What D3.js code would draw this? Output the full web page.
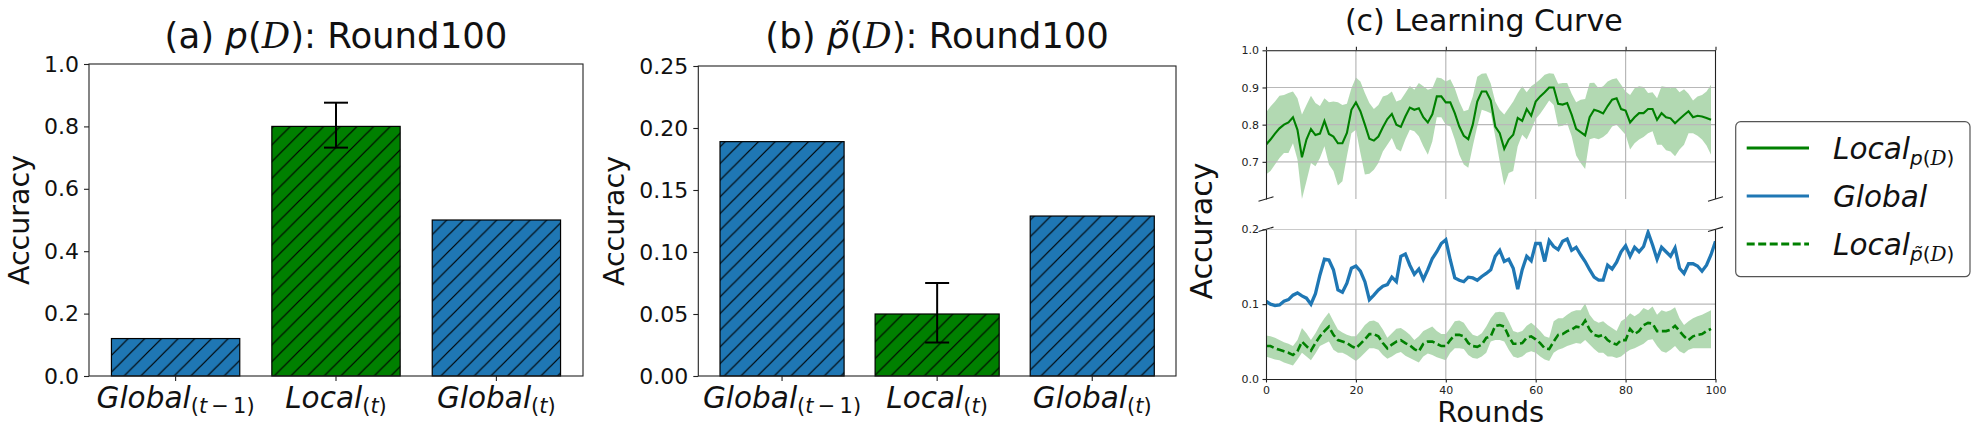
<!DOCTYPE html>
<html>
<head>
<meta charset="utf-8">
<script src="https://cdn.jsdelivr.net/npm/d3@7"></script>
<style>
  body { margin: 0; background: #fff; }
  svg { display: block; font-family: "DejaVu Sans", sans-serif; }
</style>
</head>
<body>
<svg id="chart" width="1977" height="436"></svg>
<script>
// bar panels
const barNames = ['Global', 'Local', 'Global']
const barSubs = ['(t\u2009\u2212\u20091)', '(t)', '(t)']
const barColors = ['#1f77b4', '#008000', '#1f77b4']
const pValues = [0.12, 0.80, 0.50]
const pLocalErr = [0.732, 0.876]
const ptValues = [0.189, 0.050, 0.129]
const ptLocalErr = [0.027, 0.075]
const pTicks = [0, 0.2, 0.4, 0.6, 0.8, 1.0]
const ptTicks = [0, 0.05, 0.10, 0.15, 0.20, 0.25]

// learning curve (rounds 0..99, Global has 0..100)
const localPMean = [0.746, 0.76, 0.776, 0.79, 0.80, 0.806, 0.82, 0.786, 0.712, 0.76,
  0.788, 0.772, 0.776, 0.81, 0.775, 0.768, 0.75, 0.75, 0.778, 0.84,
  0.86, 0.836, 0.80, 0.762, 0.757, 0.768, 0.793, 0.815, 0.829, 0.80,
  0.794, 0.822, 0.846, 0.84, 0.844, 0.82, 0.806, 0.828, 0.876, 0.876,
  0.86, 0.86, 0.831, 0.795, 0.77, 0.761, 0.80, 0.862, 0.889, 0.889,
  0.865, 0.795, 0.777, 0.735, 0.76, 0.773, 0.818, 0.81, 0.842, 0.824,
  0.862, 0.876, 0.887, 0.90, 0.90, 0.856, 0.854, 0.858, 0.827, 0.789,
  0.78, 0.771, 0.82, 0.84, 0.836, 0.83, 0.85, 0.867, 0.871, 0.842,
  0.838, 0.806, 0.82, 0.831, 0.831, 0.842, 0.842, 0.813, 0.831, 0.82,
  0.817, 0.804, 0.815, 0.826, 0.836, 0.82, 0.824, 0.822, 0.818, 0.813]
const localPUpper = [0.833, 0.849, 0.862, 0.878, 0.88, 0.885, 0.889, 0.871, 0.827, 0.853,
  0.878, 0.858, 0.85, 0.871, 0.86, 0.862, 0.86, 0.853, 0.856, 0.898,
  0.927, 0.916, 0.885, 0.858, 0.842, 0.853, 0.876, 0.88, 0.889, 0.862,
  0.867, 0.885, 0.904, 0.894, 0.912, 0.903, 0.894, 0.898, 0.927, 0.925,
  0.916, 0.922, 0.898, 0.862, 0.836, 0.84, 0.876, 0.929, 0.937, 0.938,
  0.911, 0.862, 0.84, 0.827, 0.845, 0.862, 0.885, 0.903, 0.887, 0.903,
  0.912, 0.922, 0.934, 0.938, 0.937, 0.91, 0.912, 0.912, 0.883, 0.86,
  0.867, 0.869, 0.912, 0.913, 0.898, 0.903, 0.916, 0.922, 0.925, 0.907,
  0.889, 0.88, 0.898, 0.903, 0.901, 0.885, 0.887, 0.871, 0.903, 0.901,
  0.898, 0.901, 0.887, 0.895, 0.883, 0.865, 0.876, 0.88, 0.889, 0.907]
const localPLower = [0.666, 0.675, 0.693, 0.71, 0.724, 0.724, 0.75, 0.706, 0.60, 0.648,
  0.697, 0.688, 0.71, 0.742, 0.693, 0.675, 0.636, 0.648, 0.715, 0.777,
  0.786, 0.724, 0.666, 0.668, 0.679, 0.697, 0.728, 0.746, 0.764, 0.735,
  0.728, 0.76, 0.786, 0.782, 0.769, 0.742, 0.719, 0.755, 0.82, 0.82,
  0.80, 0.795, 0.76, 0.719, 0.693, 0.684, 0.742, 0.795, 0.84, 0.836,
  0.831, 0.769, 0.70, 0.636, 0.67, 0.675, 0.742, 0.773, 0.76, 0.786,
  0.815, 0.829, 0.847, 0.865, 0.853, 0.795, 0.797, 0.804, 0.769, 0.717,
  0.697, 0.681, 0.761, 0.764, 0.761, 0.767, 0.777, 0.795, 0.80, 0.786,
  0.773, 0.733, 0.75, 0.76, 0.767, 0.777, 0.782, 0.746, 0.746, 0.731,
  0.728, 0.715, 0.733, 0.746, 0.777, 0.777, 0.77, 0.76, 0.744, 0.719]
const globalAcc = [0.104, 0.10, 0.098, 0.099, 0.104, 0.106, 0.112, 0.115, 0.111, 0.108,
  0.10, 0.114, 0.139, 0.16, 0.159, 0.146, 0.119, 0.116, 0.128, 0.148,
  0.151, 0.144, 0.13, 0.106, 0.112, 0.119, 0.124, 0.126, 0.136, 0.13,
  0.164, 0.167, 0.152, 0.14, 0.147, 0.133, 0.146, 0.161, 0.17, 0.181,
  0.186, 0.159, 0.135, 0.132, 0.13, 0.136, 0.135, 0.132, 0.137, 0.141,
  0.146, 0.164, 0.172, 0.157, 0.16, 0.148, 0.12, 0.146, 0.164, 0.158,
  0.181, 0.181, 0.157, 0.185, 0.177, 0.173, 0.184, 0.187, 0.172, 0.176,
  0.166, 0.157, 0.146, 0.136, 0.132, 0.132, 0.152, 0.147, 0.156, 0.17,
  0.178, 0.164, 0.176, 0.17, 0.177, 0.196, 0.179, 0.16, 0.176, 0.17,
  0.164, 0.175, 0.148, 0.141, 0.154, 0.154, 0.151, 0.144, 0.152, 0.166,
  0.184]
const localPtMean = [0.044, 0.044, 0.041, 0.039, 0.037, 0.035, 0.032, 0.037, 0.05, 0.044,
  0.038, 0.048, 0.057, 0.064, 0.07, 0.059, 0.052, 0.05, 0.048, 0.044,
  0.041, 0.047, 0.053, 0.06, 0.06, 0.057, 0.048, 0.041, 0.046, 0.05,
  0.052, 0.048, 0.045, 0.04, 0.037, 0.047, 0.05, 0.05, 0.047, 0.044,
  0.044, 0.052, 0.059, 0.059, 0.057, 0.048, 0.044, 0.043, 0.046, 0.055,
  0.057, 0.071, 0.072, 0.07, 0.057, 0.047, 0.047, 0.048, 0.055, 0.057,
  0.053, 0.048, 0.041, 0.04, 0.05, 0.059, 0.06, 0.064, 0.066, 0.07,
  0.069, 0.078, 0.066, 0.059, 0.057, 0.059, 0.052, 0.048, 0.046, 0.052,
  0.052, 0.067, 0.06, 0.064, 0.072, 0.075, 0.074, 0.064, 0.064, 0.064,
  0.066, 0.071, 0.064, 0.057, 0.052, 0.057, 0.059, 0.06, 0.064, 0.067]
const localPtUpper = [0.058, 0.057, 0.055, 0.052, 0.049, 0.047, 0.044, 0.052, 0.068, 0.061,
  0.052, 0.061, 0.072, 0.081, 0.089, 0.077, 0.066, 0.062, 0.059, 0.057,
  0.057, 0.064, 0.072, 0.077, 0.078, 0.075, 0.066, 0.055, 0.061, 0.067,
  0.068, 0.064, 0.059, 0.052, 0.057, 0.064, 0.067, 0.07, 0.064, 0.06,
  0.06, 0.068, 0.077, 0.078, 0.075, 0.066, 0.059, 0.057, 0.061, 0.07,
  0.081, 0.089, 0.09, 0.089, 0.077, 0.064, 0.062, 0.064, 0.071, 0.075,
  0.07, 0.064, 0.057, 0.055, 0.077, 0.081, 0.081, 0.086, 0.09, 0.092,
  0.092, 0.101, 0.086, 0.078, 0.075, 0.077, 0.072, 0.068, 0.064, 0.077,
  0.081, 0.088, 0.084, 0.088, 0.095, 0.092, 0.097, 0.086, 0.092, 0.09,
  0.092, 0.096, 0.081, 0.072, 0.077, 0.081, 0.084, 0.086, 0.089, 0.092]
const localPtLower = [0.03, 0.028, 0.026, 0.025, 0.022, 0.02, 0.018, 0.026, 0.035, 0.03,
  0.025, 0.034, 0.044, 0.047, 0.05, 0.039, 0.035, 0.035, 0.032, 0.028,
  0.024, 0.029, 0.035, 0.041, 0.041, 0.039, 0.032, 0.027, 0.03, 0.034,
  0.036, 0.031, 0.028, 0.025, 0.022, 0.03, 0.034, 0.032, 0.029, 0.027,
  0.025, 0.035, 0.041, 0.041, 0.04, 0.032, 0.028, 0.027, 0.03, 0.035,
  0.05, 0.052, 0.052, 0.05, 0.039, 0.03, 0.028, 0.03, 0.035, 0.037,
  0.035, 0.03, 0.026, 0.024, 0.035, 0.039, 0.041, 0.044, 0.046, 0.048,
  0.047, 0.052, 0.046, 0.04, 0.035, 0.035, 0.03, 0.03, 0.028, 0.03,
  0.035, 0.039, 0.041, 0.044, 0.047, 0.052, 0.053, 0.044, 0.037, 0.035,
  0.039, 0.044, 0.037, 0.034, 0.039, 0.041, 0.041, 0.041, 0.041, 0.041]
const roundTicks = [0, 20, 40, 60, 80, 100]
const topTicks = [0.7, 0.8, 0.9, 1.0]
const bottomTicks = [0.0, 0.1, 0.2]

const legendNames = ['Local', 'Global', 'Local']
const legendSubs = ['p', '', 'p\u0303']
const legendColors = ['#008000', '#1f77b4', '#008000']
const legendDashes = [null, null, '8,3.5']

const svg = d3.select('#chart')
const defs = svg.append('defs')
const hatch = defs.append('pattern').attr('id', 'hatch')
  .attr('patternUnits', 'userSpaceOnUse').attr('width', 16.67).attr('height', 16.67)
hatch.append('path')
  .attr('d', 'M-3,3 L3,-3 M0,16.67 L16.67,0 M13.67,19.67 L19.67,13.67')
  .attr('stroke', '#000').attr('stroke-width', 1.2)

// writes "p(D)" style math: italic letter, upright parens, serif italic D
function mathPD(text, letter, size, dy) {
  text.append('tspan').attr('font-style', 'italic').attr('font-size', size).attr('dy', dy).text(letter)
  text.append('tspan').attr('font-size', size).text('(')
  text.append('tspan').attr('font-family', '"DejaVu Serif", serif').attr('font-style', 'italic').attr('font-size', size).text('D')
  text.append('tspan').attr('font-size', size).text(')')
}

function drawBars(o) {
  const x = d3.scaleBand().domain(d3.range(o.values.length)).range([o.left, o.right])
    .paddingInner(0.2).paddingOuter(0.14)
  const y = d3.scaleLinear().domain([0, o.yMax]).range([o.bottom, o.top])
  const g = svg.append('g')

  const bars = g.selectAll('.bar').data(o.values).enter().append('g').attr('class', 'bar')
  bars.append('rect')
    .attr('x', (d, i) => x(i)).attr('y', d => y(d))
    .attr('width', x.bandwidth()).attr('height', d => y(0) - y(d))
    .attr('fill', (d, i) => barColors[i])
  bars.append('rect')
    .attr('x', (d, i) => x(i)).attr('y', d => y(d))
    .attr('width', x.bandwidth()).attr('height', d => y(0) - y(d))
    .attr('fill', 'url(#hatch)').attr('stroke', '#000').attr('stroke-width', 1.2)

  // error bar on the Local bar
  const cx = x(1) + x.bandwidth() / 2
  const eg = g.append('g').attr('stroke', '#000').attr('stroke-width', 2)
  eg.append('line').attr('x1', cx).attr('x2', cx).attr('y1', y(o.err[0])).attr('y2', y(o.err[1]))
  o.err.forEach(function(e) {
    eg.append('line').attr('x1', cx - 12).attr('x2', cx + 12).attr('y1', y(e)).attr('y2', y(e))
  })

  const ya = g.append('g').attr('transform', 'translate(' + o.left + ',0)')
    .call(d3.axisLeft(y).tickValues(o.ticks).tickFormat(d3.format(o.fmt)).tickSize(5).tickPadding(5))
  ya.select('.domain').remove()
  ya.selectAll('text').attr('font-size', 22).attr('font-family', '"DejaVu Sans", sans-serif').attr('fill', '#111')
  ya.selectAll('line').attr('stroke', '#222').attr('stroke-width', 1.1)

  const xa = g.append('g').attr('transform', 'translate(0,' + o.bottom + ')')
    .call(d3.axisBottom(x).tickSize(5).tickFormat(''))
  xa.select('.domain').remove()
  xa.selectAll('line').attr('stroke', '#222').attr('stroke-width', 1.1)
  xa.selectAll('.tick').append('text')
    .attr('y', 32).attr('text-anchor', 'middle').attr('fill', '#111')
    .attr('font-family', '"DejaVu Sans", sans-serif')
    .each(function(i) {
      const t = d3.select(this)
      t.append('tspan').attr('font-style', 'italic').attr('font-size', 29.5).text(barNames[i])
      let first = true
      barSubs[i].split(/([a-z])/).filter(s => s.length).forEach(function(s) {
        const sp = t.append('tspan').attr('font-size', 21)
        if (/^[a-z]$/.test(s)) sp.attr('font-style', 'italic')
        if (first) { sp.attr('dy', 5); first = false }
        sp.text(s)
      })
    })

  g.append('rect').attr('x', o.left).attr('y', o.top)
    .attr('width', o.right - o.left).attr('height', o.bottom - o.top)
    .attr('fill', 'none').attr('stroke', '#222').attr('stroke-width', 1.1)

  const title = g.append('text').attr('x', (o.left + o.right) / 2).attr('y', 48)
    .attr('text-anchor', 'middle').attr('font-size', 35.5).attr('fill', '#111')
  title.append('tspan').text(o.tag + ' ')
  mathPD(title, o.letter, 35.5, 0)
  title.append('tspan').text(': Round100')

  g.append('text').attr('transform', 'translate(' + o.labelX + ',' + ((o.top + o.bottom) / 2) + ') rotate(-90)')
    .attr('text-anchor', 'middle').attr('font-size', 28.5).attr('fill', '#111').text('Accuracy')
}

drawBars({ left: 89, right: 583, top: 64, bottom: 376, yMax: 1.0, ticks: pTicks, fmt: '.1f',
  values: pValues, err: pLocalErr, tag: '(a)', letter: 'p', labelX: 29 })
drawBars({ left: 698.3, right: 1176, top: 66, bottom: 376, yMax: 0.25, ticks: ptTicks, fmt: '.2f',
  values: ptValues, err: ptLocalErr, tag: '(b)', letter: 'p\u0303', labelX: 624 })

// panel (c): broken-axis learning curve
const xC = d3.scaleLinear().domain([0, 100]).range([1266, 1715.5])
const yTop = d3.scaleLinear().domain([0.6, 1.0]).range([199, 50.3])
const yBot = d3.scaleLinear().domain([0, 0.2]).range([379, 229.3])
const rounds = d3.range(100)
const gc = svg.append('g')

defs.append('clipPath').attr('id', 'clipTop').append('rect')
  .attr('x', xC(0)).attr('y', yTop(1.0)).attr('width', xC(100) - xC(0)).attr('height', yTop(0.6) - yTop(1.0))
defs.append('clipPath').attr('id', 'clipBot').append('rect')
  .attr('x', xC(0)).attr('y', yBot(0.2)).attr('width', xC(100) - xC(0)).attr('height', yBot(0) - yBot(0.2))

function band(y, lo, hi) {
  return d3.area().x(i => xC(i)).y0(i => y(lo[i])).y1(i => y(hi[i]))(rounds)
}
function grid(y, yTicks, clip) {
  const gg = gc.append('g').attr('clip-path', 'url(#' + clip + ')')
    .attr('stroke', '#b8b8b8').attr('stroke-width', 1.2)
  gg.selectAll('.vx').data([20, 40, 60, 80]).enter().append('line')
    .attr('x1', d => xC(d)).attr('x2', d => xC(d)).attr('y1', y.range()[0]).attr('y2', y.range()[1])
  gg.selectAll('.hy').data(yTicks).enter().append('line')
    .attr('x1', xC(0)).attr('x2', xC(100)).attr('y1', d => y(d)).attr('y2', d => y(d))
}

// top panel
gc.append('path').attr('clip-path', 'url(#clipTop)').attr('d', band(yTop, localPLower, localPUpper))
  .attr('fill', '#008000').attr('fill-opacity', 0.3)
grid(yTop, topTicks, 'clipTop')
gc.append('path').attr('clip-path', 'url(#clipTop)')
  .attr('d', d3.line().x(i => xC(i)).y(i => yTop(localPMean[i]))(rounds))
  .attr('fill', 'none').attr('stroke', '#008000').attr('stroke-width', 2.1)

// bottom panel
gc.append('path').attr('clip-path', 'url(#clipBot)').attr('d', band(yBot, localPtLower, localPtUpper))
  .attr('fill', '#008000').attr('fill-opacity', 0.3)
grid(yBot, [0.1, 0.2], 'clipBot')
gc.append('path').attr('clip-path', 'url(#clipBot)')
  .attr('d', d3.line().x((d, i) => xC(i)).y(d => yBot(d))(globalAcc))
  .attr('fill', 'none').attr('stroke', '#1f77b4').attr('stroke-width', 3.3)
gc.append('path').attr('clip-path', 'url(#clipBot)')
  .attr('d', d3.line().x(i => xC(i)).y(i => yBot(localPtMean[i]))(rounds))
  .attr('fill', 'none').attr('stroke', '#008000').attr('stroke-width', 2.6).attr('stroke-dasharray', '8,3.5')

function styleSmallAxis(a) {
  a.selectAll('text').attr('font-size', 11).attr('font-family', '"DejaVu Sans", sans-serif').attr('fill', '#222')
  a.selectAll('line, path').attr('stroke', '#222').attr('stroke-width', 1.1)
}
const ayTop = gc.append('g').attr('transform', 'translate(' + xC(0) + ',0)')
  .call(d3.axisLeft(yTop).tickValues(topTicks).tickFormat(d3.format('.1f')).tickSize(3.5).tickPadding(3.5).tickSizeOuter(0))
styleSmallAxis(ayTop)
const axTop = gc.append('g').attr('transform', 'translate(0,' + yTop(1.0) + ')')
  .call(d3.axisTop(xC).tickValues(roundTicks).tickFormat('').tickSize(3.5).tickSizeOuter(0))
styleSmallAxis(axTop)
const ayBot = gc.append('g').attr('transform', 'translate(' + xC(0) + ',0)')
  .call(d3.axisLeft(yBot).tickValues(bottomTicks).tickFormat(d3.format('.1f')).tickSize(3.5).tickPadding(3.5).tickSizeOuter(0))
styleSmallAxis(ayBot)
const axBot = gc.append('g').attr('transform', 'translate(0,' + yBot(0) + ')')
  .call(d3.axisBottom(xC).tickValues(roundTicks).tickSize(3.5).tickPadding(3.5).tickSizeOuter(0))
styleSmallAxis(axBot)

// right spines and break marks
const sp = gc.append('g').attr('stroke', '#222').attr('stroke-width', 1.1)
sp.append('line').attr('x1', xC(100)).attr('x2', xC(100)).attr('y1', yTop(1.0)).attr('y2', yTop(0.6))
sp.append('line').attr('x1', xC(100)).attr('x2', xC(100)).attr('y1', yBot(0.2)).attr('y2', yBot(0))
;[xC(0), xC(100)].forEach(function(bx) {
  ;[yTop(0.6), yBot(0.2)].forEach(function(by) {
    sp.append('line').attr('x1', bx - 7.5).attr('y1', by + 2.2).attr('x2', bx + 7.5).attr('y2', by - 2.2)
  })
})

gc.append('text').attr('x', (xC(0) + xC(100)) / 2 - 7).attr('y', 31).attr('text-anchor', 'middle')
  .attr('font-size', 30).attr('fill', '#111').text('(c) Learning Curve')
gc.append('text').attr('x', (xC(0) + xC(100)) / 2).attr('y', 422).attr('text-anchor', 'middle')
  .attr('font-size', 29).attr('fill', '#111').text('Rounds')
gc.append('text').attr('transform', 'translate(1212,231) rotate(-90)')
  .attr('text-anchor', 'middle').attr('font-size', 30).attr('fill', '#111').text('Accuracy')

// legend
const lg = svg.append('g')
lg.append('rect').attr('x', 1735.7).attr('y', 121.7).attr('width', 234.3).attr('height', 155)
  .attr('rx', 5).attr('fill', '#fff').attr('stroke', '#555').attr('stroke-width', 1.2)
const legendY = d3.scalePoint().domain(d3.range(3)).range([148, 244])
const items = lg.selectAll('.item').data(legendNames).enter().append('g')
  .attr('transform', (d, i) => 'translate(0,' + legendY(i) + ')')
items.append('line').attr('x1', 1746.7).attr('x2', 1809).attr('y1', 0).attr('y2', 0)
  .attr('stroke', (d, i) => legendColors[i]).attr('stroke-width', 3)
  .attr('stroke-dasharray', (d, i) => legendDashes[i])
items.append('text').attr('x', 1833).attr('y', 11).attr('fill', '#111')
  .each(function(d, i) {
    const t = d3.select(this)
    t.append('tspan').attr('font-style', 'italic').attr('font-size', 29.5).text(d)
    if (legendSubs[i]) mathPD(t, legendSubs[i], 20, 6)
  })
</script>
</body>
</html>
